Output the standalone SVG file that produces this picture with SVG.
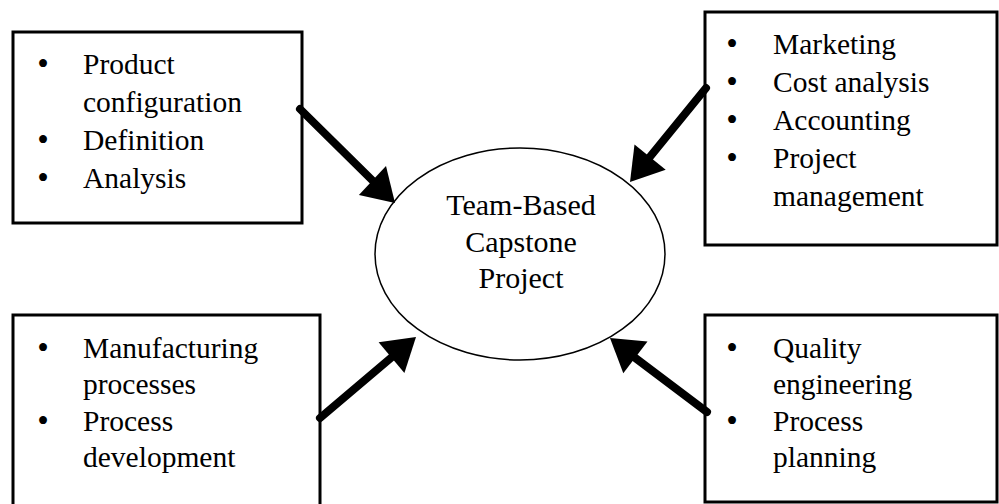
<svg xmlns="http://www.w3.org/2000/svg" width="999" height="504" viewBox="0 0 999 504">
<style>
.box{fill:#fff;stroke:#000;stroke-width:3}
.t{font-family:"Liberation Serif","Times New Roman",serif;font-size:29.5px;fill:#000}
.b{font-family:"Liberation Serif","Times New Roman",serif;font-size:33px;fill:#000;text-anchor:middle}
.c{font-family:"Liberation Serif","Times New Roman",serif;font-size:30px;fill:#000;text-anchor:middle}
.shaft{stroke:#000;stroke-width:8;stroke-linecap:round;fill:none}
.head{fill:#000;stroke:none}
</style>
<rect width="999" height="504" fill="#fff"/>
<g id="box-design">
<rect class="box" x="13" y="32" width="289" height="191"/>
<text class="b" x="43" y="75">•</text><text class="t" x="83" y="74">Product</text>
<text class="t" x="83" y="112">configuration</text>
<text class="b" x="43" y="151">•</text><text class="t" x="83" y="150">Definition</text>
<text class="b" x="43" y="189">•</text><text class="t" x="83" y="188">Analysis</text>
</g>
<g id="box-business">
<rect class="box" x="705" y="12" width="292" height="233"/>
<text class="b" x="732" y="55">•</text><text class="t" x="773" y="54">Marketing</text>
<text class="b" x="732" y="93">•</text><text class="t" x="773" y="92">Cost analysis</text>
<text class="b" x="732" y="131">•</text><text class="t" x="773" y="130">Accounting</text>
<text class="b" x="732" y="169">•</text><text class="t" x="773" y="168">Project</text>
<text class="t" x="773" y="206">management</text>
</g>
<g id="box-manufacturing">
<rect class="box" x="13" y="315" width="307" height="200"/>
<text class="b" x="43" y="359">•</text><text class="t" x="83" y="358">Manufacturing</text>
<text class="t" x="83" y="394">processes</text>
<text class="b" x="43" y="432">•</text><text class="t" x="83" y="431">Process</text>
<text class="t" x="83" y="467">development</text>
</g>
<g id="box-quality">
<rect class="box" x="705" y="315" width="292" height="187"/>
<text class="b" x="732" y="359">•</text><text class="t" x="773" y="358">Quality</text>
<text class="t" x="773" y="394">engineering</text>
<text class="b" x="732" y="432">•</text><text class="t" x="773" y="431">Process</text>
<text class="t" x="773" y="467">planning</text>
</g>
<g id="center">
<ellipse cx="520" cy="254" rx="145" ry="106" fill="#fff" stroke="#000" stroke-width="1.5"/>
<text class="c" x="521" y="215">Team-Based</text>
<text class="c" x="521" y="252">Capstone</text>
<text class="c" x="521" y="288">Project</text>
</g>
<g id="connectors">
<line class="shaft" x1="300" y1="109" x2="374" y2="182"/>
<polygon class="head" points="395,203 358.9,195 386,166"/>
<line class="shaft" x1="706" y1="88" x2="649" y2="158"/>
<polygon class="head" points="630,182 634.5,144.5 665.7,169.7"/>
<line class="shaft" x1="320" y1="418" x2="392" y2="357"/>
<polygon class="head" points="416,337 404.4,372.9 378.6,342.3"/>
<line class="shaft" x1="707" y1="412" x2="634" y2="357"/>
<polygon class="head" points="610,338 647.5,341.5 623.3,373.3"/>
</g>
</svg>
